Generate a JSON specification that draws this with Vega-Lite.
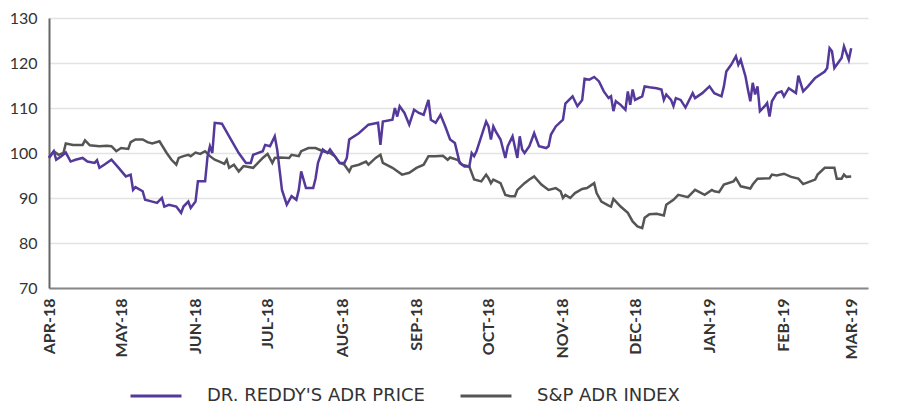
{
  "$schema": "https://vega.github.io/schema/vega-lite/v6.json",
  "width": 819,
  "height": 270,
  "autosize": {"type": "none"},
  "padding": {"left": 49, "top": 18, "right": 33, "bottom": 116},
  "background": "white",
  "config": {"view": {"stroke": null}, "font": "Lato"},
  "datasets": {
    "reddy": [
      {"date":"2018-04-01","v":99.0},{"date":"2018-04-03","v":100.4},{"date":"2018-04-04","v":98.5},{"date":"2018-04-06","v":99.2},
      {"date":"2018-04-08","v":100.1},{"date":"2018-04-10","v":98.1},{"date":"2018-04-12","v":98.5},{"date":"2018-04-15","v":98.9},
      {"date":"2018-04-17","v":98.1},{"date":"2018-04-20","v":97.8},{"date":"2018-04-21","v":98.4},{"date":"2018-04-22","v":96.7},
      {"date":"2018-04-24","v":97.4},{"date":"2018-04-27","v":98.5},{"date":"2018-04-30","v":96.7},
      {"date":"2018-05-03","v":94.8},{"date":"2018-05-05","v":95.2},{"date":"2018-05-06","v":91.8},{"date":"2018-05-07","v":92.4},
      {"date":"2018-05-10","v":91.5},{"date":"2018-05-11","v":89.6},{"date":"2018-05-14","v":89.2},{"date":"2018-05-16","v":88.9},
      {"date":"2018-05-18","v":90.0},{"date":"2018-05-19","v":88.1},{"date":"2018-05-21","v":88.5},{"date":"2018-05-24","v":88.1},
      {"date":"2018-05-26","v":86.7},{"date":"2018-05-27","v":88.1},{"date":"2018-05-29","v":89.2},{"date":"2018-05-30","v":87.8},
      {"date":"2018-06-01","v":89.2},{"date":"2018-06-02","v":93.7},{"date":"2018-06-05","v":93.7},{"date":"2018-06-06","v":99.2},
      {"date":"2018-06-07","v":101.5},{"date":"2018-06-08","v":100.0},{"date":"2018-06-09","v":106.7},{"date":"2018-06-12","v":106.5},
      {"date":"2018-06-15","v":103.7},{"date":"2018-06-19","v":100.0},{"date":"2018-06-22","v":97.8},{"date":"2018-06-24","v":97.8},
      {"date":"2018-06-25","v":99.6},{"date":"2018-06-29","v":100.4},{"date":"2018-06-30","v":101.8},
      {"date":"2018-07-02","v":101.5},{"date":"2018-07-04","v":103.7},{"date":"2018-07-05","v":100.8},{"date":"2018-07-07","v":91.8},
      {"date":"2018-07-09","v":88.5},{"date":"2018-07-11","v":90.4},{"date":"2018-07-13","v":89.6},{"date":"2018-07-14","v":91.8},
      {"date":"2018-07-15","v":95.9},{"date":"2018-07-17","v":92.2},{"date":"2018-07-20","v":92.2},{"date":"2018-07-21","v":94.4},
      {"date":"2018-07-22","v":97.8},{"date":"2018-07-24","v":100.8},{"date":"2018-07-26","v":100.0},{"date":"2018-07-27","v":100.8},
      {"date":"2018-07-29","v":99.3},{"date":"2018-07-31","v":97.8},
      {"date":"2018-08-02","v":97.8},{"date":"2018-08-03","v":98.9},{"date":"2018-08-04","v":103.0},{"date":"2018-08-08","v":104.4},
      {"date":"2018-08-12","v":106.3},{"date":"2018-08-16","v":106.7},{"date":"2018-08-17","v":101.8},{"date":"2018-08-18","v":107.0},
      {"date":"2018-08-22","v":107.4},{"date":"2018-08-23","v":110.0},{"date":"2018-08-24","v":108.1},{"date":"2018-08-25","v":110.4},
      {"date":"2018-08-27","v":108.9},{"date":"2018-08-29","v":106.3},{"date":"2018-08-31","v":109.6},
      {"date":"2018-09-02","v":108.9},{"date":"2018-09-04","v":108.5},{"date":"2018-09-06","v":111.8},{"date":"2018-09-07","v":107.4},
      {"date":"2018-09-09","v":106.7},{"date":"2018-09-11","v":108.5},{"date":"2018-09-13","v":105.9},{"date":"2018-09-15","v":103.0},
      {"date":"2018-09-17","v":102.2},{"date":"2018-09-19","v":97.8},{"date":"2018-09-21","v":97.0},{"date":"2018-09-23","v":97.0},
      {"date":"2018-09-24","v":100.0},{"date":"2018-09-25","v":99.3},{"date":"2018-09-26","v":100.4},{"date":"2018-09-28","v":103.7},
      {"date":"2018-09-30","v":107.0},
      {"date":"2018-10-01","v":105.9},{"date":"2018-10-02","v":103.0},{"date":"2018-10-03","v":105.9},{"date":"2018-10-04","v":104.8},
      {"date":"2018-10-06","v":103.0},{"date":"2018-10-08","v":98.9},{"date":"2018-10-09","v":101.5},{"date":"2018-10-11","v":103.7},
      {"date":"2018-10-13","v":98.9},{"date":"2018-10-14","v":103.7},{"date":"2018-10-15","v":100.8},{"date":"2018-10-16","v":100.0},
      {"date":"2018-10-18","v":101.5},{"date":"2018-10-20","v":104.4},{"date":"2018-10-22","v":101.5},{"date":"2018-10-25","v":101.1},
      {"date":"2018-10-26","v":101.5},{"date":"2018-10-27","v":104.1},{"date":"2018-10-29","v":105.9},
      {"date":"2018-11-01","v":107.4},{"date":"2018-11-02","v":111.0},{"date":"2018-11-05","v":112.6},{"date":"2018-11-07","v":110.4},
      {"date":"2018-11-09","v":111.8},{"date":"2018-11-10","v":116.5},{"date":"2018-11-12","v":116.3},{"date":"2018-11-14","v":116.9},
      {"date":"2018-11-16","v":115.9},{"date":"2018-11-18","v":113.7},{"date":"2018-11-20","v":112.2},{"date":"2018-11-21","v":112.6},
      {"date":"2018-11-22","v":109.3},{"date":"2018-11-23","v":111.5},{"date":"2018-11-25","v":110.7},{"date":"2018-11-27","v":109.6},
      {"date":"2018-11-28","v":113.7},{"date":"2018-11-29","v":110.7},{"date":"2018-11-30","v":114.1},
      {"date":"2018-12-01","v":111.8},{"date":"2018-12-04","v":112.6},{"date":"2018-12-05","v":114.8},{"date":"2018-12-07","v":114.6},
      {"date":"2018-12-10","v":114.4},{"date":"2018-12-12","v":114.1},{"date":"2018-12-13","v":111.8},{"date":"2018-12-14","v":113.0},
      {"date":"2018-12-16","v":111.8},{"date":"2018-12-17","v":110.4},{"date":"2018-12-18","v":112.2},{"date":"2018-12-20","v":111.8},
      {"date":"2018-12-22","v":110.1},{"date":"2018-12-25","v":113.3},{"date":"2018-12-26","v":112.2},{"date":"2018-12-29","v":113.3},
      {"date":"2019-01-01","v":114.8},{"date":"2019-01-03","v":113.3},{"date":"2019-01-06","v":112.6},{"date":"2019-01-07","v":114.8},
      {"date":"2019-01-08","v":118.1},{"date":"2019-01-10","v":119.6},{"date":"2019-01-12","v":121.5},{"date":"2019-01-13","v":119.6},
      {"date":"2019-01-14","v":120.7},{"date":"2019-01-16","v":117.0},{"date":"2019-01-17","v":114.1},{"date":"2019-01-18","v":111.5},
      {"date":"2019-01-19","v":115.6},{"date":"2019-01-20","v":113.0},{"date":"2019-01-21","v":114.8},{"date":"2019-01-22","v":109.3},
      {"date":"2019-01-24","v":110.4},{"date":"2019-01-25","v":111.1},{"date":"2019-01-26","v":108.1},{"date":"2019-01-27","v":111.5},
      {"date":"2019-01-29","v":113.3},{"date":"2019-01-31","v":113.7},
      {"date":"2019-02-01","v":112.6},{"date":"2019-02-03","v":114.4},{"date":"2019-02-06","v":113.3},{"date":"2019-02-07","v":117.2},
      {"date":"2019-02-09","v":113.7},{"date":"2019-02-11","v":114.8},{"date":"2019-02-14","v":116.7},{"date":"2019-02-18","v":118.1},
      {"date":"2019-02-19","v":118.9},{"date":"2019-02-20","v":123.3},{"date":"2019-02-21","v":122.6},{"date":"2019-02-22","v":118.9},
      {"date":"2019-02-25","v":121.1},{"date":"2019-02-26","v":123.7},{"date":"2019-02-28","v":120.7},{"date":"2019-03-01","v":123.3}
    ],
    "index": [
      {"date":"2018-04-01","v":98.9},{"date":"2018-04-03","v":100.4},{"date":"2018-04-05","v":99.6},{"date":"2018-04-07","v":100.0},
      {"date":"2018-04-08","v":102.1},{"date":"2018-04-11","v":101.8},{"date":"2018-04-15","v":101.8},{"date":"2018-04-16","v":102.8},
      {"date":"2018-04-18","v":101.7},{"date":"2018-04-22","v":101.5},{"date":"2018-04-25","v":101.6},{"date":"2018-04-27","v":101.5},
      {"date":"2018-04-29","v":100.4},{"date":"2018-05-01","v":101.1},{"date":"2018-05-04","v":100.9},{"date":"2018-05-05","v":102.4},
      {"date":"2018-05-07","v":103.0},{"date":"2018-05-10","v":103.0},{"date":"2018-05-12","v":102.4},{"date":"2018-05-14","v":102.1},
      {"date":"2018-05-17","v":102.6},{"date":"2018-05-20","v":100.0},{"date":"2018-05-22","v":98.5},{"date":"2018-05-24","v":97.4},
      {"date":"2018-05-25","v":98.9},{"date":"2018-05-27","v":99.3},{"date":"2018-05-29","v":99.6},{"date":"2018-05-30","v":99.3},
      {"date":"2018-06-01","v":100.1},{"date":"2018-06-03","v":99.8},{"date":"2018-06-05","v":100.4},{"date":"2018-06-07","v":99.3},
      {"date":"2018-06-09","v":98.5},{"date":"2018-06-11","v":98.1},{"date":"2018-06-13","v":97.6},{"date":"2018-06-14","v":98.5},
      {"date":"2018-06-15","v":96.7},{"date":"2018-06-17","v":97.4},{"date":"2018-06-19","v":95.9},{"date":"2018-06-21","v":97.1},
      {"date":"2018-06-25","v":96.7},{"date":"2018-06-27","v":97.8},{"date":"2018-06-29","v":98.9},{"date":"2018-07-01","v":99.8},
      {"date":"2018-07-03","v":97.8},{"date":"2018-07-04","v":98.9},{"date":"2018-07-06","v":99.0},{"date":"2018-07-10","v":98.9},
      {"date":"2018-07-11","v":99.6},{"date":"2018-07-14","v":99.3},{"date":"2018-07-15","v":100.4},{"date":"2018-07-18","v":101.1},
      {"date":"2018-07-21","v":101.1},{"date":"2018-07-24","v":100.4},{"date":"2018-07-27","v":100.0},{"date":"2018-07-29","v":99.3},
      {"date":"2018-07-31","v":97.8},{"date":"2018-08-02","v":97.4},{"date":"2018-08-04","v":95.9},{"date":"2018-08-05","v":97.0},
      {"date":"2018-08-08","v":97.4},{"date":"2018-08-11","v":98.1},{"date":"2018-08-12","v":97.4},{"date":"2018-08-15","v":98.9},
      {"date":"2018-08-17","v":99.6},{"date":"2018-08-18","v":97.8},{"date":"2018-08-22","v":96.7},{"date":"2018-08-26","v":95.2},
      {"date":"2018-08-29","v":95.6},{"date":"2018-09-01","v":96.7},{"date":"2018-09-04","v":97.4},{"date":"2018-09-06","v":99.3},
      {"date":"2018-09-09","v":99.3},{"date":"2018-09-12","v":99.4},{"date":"2018-09-14","v":98.5},{"date":"2018-09-15","v":99.0},
      {"date":"2018-09-18","v":98.5},{"date":"2018-09-20","v":97.4},{"date":"2018-09-23","v":97.0},{"date":"2018-09-25","v":94.1},
      {"date":"2018-09-28","v":93.7},{"date":"2018-09-30","v":95.2},{"date":"2018-10-01","v":94.4},{"date":"2018-10-02","v":93.3},
      {"date":"2018-10-03","v":94.1},{"date":"2018-10-06","v":93.3},{"date":"2018-10-08","v":90.7},{"date":"2018-10-10","v":90.4},
      {"date":"2018-10-12","v":90.4},{"date":"2018-10-13","v":91.8},{"date":"2018-10-16","v":93.3},{"date":"2018-10-18","v":94.1},
      {"date":"2018-10-20","v":94.8},{"date":"2018-10-23","v":93.0},{"date":"2018-10-26","v":91.8},{"date":"2018-10-29","v":92.2},
      {"date":"2018-10-31","v":91.5},{"date":"2018-11-01","v":90.0},{"date":"2018-11-02","v":90.7},{"date":"2018-11-04","v":90.0},
      {"date":"2018-11-06","v":91.1},{"date":"2018-11-09","v":92.0},{"date":"2018-11-11","v":92.2},{"date":"2018-11-14","v":93.3},
      {"date":"2018-11-15","v":91.1},{"date":"2018-11-17","v":89.2},{"date":"2018-11-20","v":88.3},{"date":"2018-11-21","v":88.1},
      {"date":"2018-11-22","v":89.8},{"date":"2018-11-25","v":88.1},{"date":"2018-11-28","v":86.7},{"date":"2018-11-30","v":84.8},
      {"date":"2018-12-02","v":83.7},{"date":"2018-12-04","v":83.3},{"date":"2018-12-05","v":85.6},{"date":"2018-12-07","v":86.4},
      {"date":"2018-12-10","v":86.5},{"date":"2018-12-13","v":86.1},{"date":"2018-12-14","v":88.5},{"date":"2018-12-17","v":89.6},
      {"date":"2018-12-19","v":90.7},{"date":"2018-12-23","v":90.2},{"date":"2018-12-26","v":91.8},{"date":"2018-12-30","v":90.7},
      {"date":"2019-01-02","v":91.8},{"date":"2019-01-03","v":91.5},{"date":"2019-01-05","v":91.3},{"date":"2019-01-07","v":93.0},
      {"date":"2019-01-11","v":93.7},{"date":"2019-01-12","v":94.4},{"date":"2019-01-14","v":92.6},{"date":"2019-01-18","v":92.1},
      {"date":"2019-01-19","v":93.0},{"date":"2019-01-21","v":94.3},{"date":"2019-01-26","v":94.4},{"date":"2019-01-27","v":95.2},
      {"date":"2019-01-29","v":95.0},{"date":"2019-02-01","v":95.4},{"date":"2019-02-04","v":94.7},{"date":"2019-02-07","v":94.3},
      {"date":"2019-02-09","v":93.1},{"date":"2019-02-12","v":93.7},{"date":"2019-02-14","v":94.1},{"date":"2019-02-15","v":95.2},
      {"date":"2019-02-18","v":96.7},{"date":"2019-02-22","v":96.7},{"date":"2019-02-23","v":94.3},{"date":"2019-02-25","v":94.3},
      {"date":"2019-02-26","v":95.2},{"date":"2019-02-27","v":94.7},{"date":"2019-03-01","v":94.8}
    ]
  },
  "layer": [
    {
      "data": {"name": "index"},
      "transform": [{"calculate": "'S&P ADR INDEX'", "as": "series"}],
      "mark": {"type": "line", "strokeWidth": 2.5, "interpolate": "linear"},
      "encoding": {
        "x": {"field": "date", "type": "temporal"},
        "y": {"field": "v", "type": "quantitative"},
        "color": {"field": "series", "type": "nominal"}
      }
    },
    {
      "data": {"name": "reddy"},
      "transform": [{"calculate": "'DR. REDDY\\'S ADR PRICE'", "as": "series"}],
      "mark": {"type": "line", "strokeWidth": 2.5, "interpolate": "linear"},
      "encoding": {
        "x": {
          "field": "date", "type": "temporal",
          "scale": {"type": "utc", "domain": [{"year": 2018, "month": 4, "date": 1, "utc": true}, {"year": 2019, "month": 3, "date": 8, "utc": true}]},
          "axis": {
            "title": null,
            "tickCount": {"interval": "month", "step": 1},
            "labelExpr": "upper(utcFormat(datum.value, '%b-%y'))",
            "labelAngle": 270,
            "labelAlign": "right",
            "labelBaseline": "middle",
            "labelFontSize": 16,
            "labelFontWeight": "bold",
            "labelColor": "#333333",
            "labelPadding": 10,
            "ticks": false,
            "grid": false,
            "domainColor": "#888888",
            "domainWidth": 2,
            "labelFlush": false,
            "labelOverlap": false
          }
        },
        "y": {
          "field": "v", "type": "quantitative",
          "scale": {"domain": [70, 130], "nice": false, "zero": false},
          "axis": {
            "title": null,
            "values": [70, 80, 90, 100, 110, 120, 130],
            "labelFontSize": 16,
            "labelColor": "#333333",
            "labelPadding": 12,
            "ticks": false,
            "grid": true,
            "gridColor": "#e3e3e3",
            "gridWidth": 1.5,
            "domainColor": "#666666",
            "domainWidth": 2
          }
        },
        "color": {
          "field": "series", "type": "nominal",
          "scale": {"domain": ["DR. REDDY'S ADR PRICE", "S&P ADR INDEX"], "range": ["#54399b", "#555555"]},
          "legend": {
            "title": null,
            "orient": "none",
            "legendX": 80,
            "legendY": 351,
            "direction": "horizontal",
            "symbolType": "stroke",
            "symbolSize": 2600,
            "symbolStrokeWidth": 3,
            "labelFont": "DejaVu Sans",
            "labelFontSize": 18,
            "labelColor": "#333333",
            "labelOffset": 24,
            "labelLimit": 400,
            "columnPadding": 29
          }
        }
      }
    }
  ]
}
